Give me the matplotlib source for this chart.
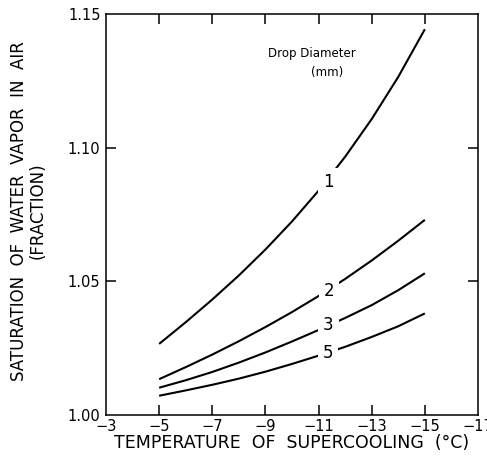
import matplotlib
matplotlib.use('Agg')
import matplotlib.pyplot as plt

# temperature of supercooling (deg C)
temps = [-5, -6, -7, -8, -9, -10, -11, -12, -13, -14, -15]

# saturation fraction for each drop diameter (mm)
sat_1mm = [1.0266, 1.0347, 1.0432, 1.0522, 1.0619, 1.0724, 1.0839, 1.0966, 1.1107, 1.1265, 1.1443]
sat_2mm = [1.0134, 1.0179, 1.0226, 1.0276, 1.0329, 1.0385, 1.0445, 1.0509, 1.0578, 1.0652, 1.0730]
sat_3mm = [1.0102, 1.0130, 1.0161, 1.0196, 1.0234, 1.0275, 1.0318, 1.0363, 1.0411, 1.0467, 1.0530]
sat_5mm = [1.0072, 1.0092, 1.0113, 1.0136, 1.0162, 1.0191, 1.0222, 1.0255, 1.0292, 1.0332, 1.0380]

curves = [('1', sat_1mm), ('2', sat_2mm), ('3', sat_3mm), ('5', sat_5mm)]
# where each curve's label sits (x, y)
label_pos = {'1': (-11.36, 1.0873), '2': (-11.4, 1.0465),
             '3': (-11.37, 1.0337), '5': (-11.37, 1.0233)}

x_ticks = [-3, -5, -7, -9, -11, -13, -15, -17]
y_ticks = [1.00, 1.05, 1.10, 1.15]

plt.rcParams['font.family'] = ['DejaVu Sans']

fig = plt.figure(figsize=(4.87, 4.61), dpi=100)
ax = fig.add_axes([106 / 487, 1 - 415 / 461, 372 / 487, 401 / 461])

for name, vals in curves:
    ax.plot(temps, vals, color='black', linewidth=1.5, solid_capstyle='butt')
    lx, ly = label_pos[name]
    ax.text(lx, ly, name, fontsize=12, ha='center', va='center', zorder=5,
            bbox=dict(facecolor='white', edgecolor='none', pad=3.5))

ax.text(-10.73, 1.1354, 'Drop Diameter', fontsize=8.5, ha='center', va='center')
ax.text(-11.33, 1.1283, '(mm)', fontsize=8.5, ha='center', va='center')

ax.set_xlim(-3, -17)
ax.set_ylim(1.00, 1.15)
ax.set_xticks(x_ticks)
ax.set_xticklabels([f'\u2212{abs(t)}' for t in x_ticks])
ax.set_yticks(y_ticks)
ax.set_yticklabels([f'{v:.2f}' for v in y_ticks])

ax.tick_params(direction='in', length=7, width=1.1, top=True, right=True,
               labelsize=10.5, pad=3)
ax.tick_params(axis='y', pad=4)
# no tick marks at the corners, only the labels
for ticks in (ax.xaxis.get_major_ticks(), ax.yaxis.get_major_ticks()):
    for t in (ticks[0], ticks[-1]):
        t.tick1line.set_visible(False)
        t.tick2line.set_visible(False)
for spine in ax.spines.values():
    spine.set_linewidth(1.1)

fig.text(28 / 487, 1 - 211 / 461, 'SATURATION  OF  WATER  VAPOR  IN  AIR\n(FRACTION)',
         rotation=90, ha='center', va='center', fontsize=12, linespacing=1.05)
fig.text(292 / 487, 1 - 443 / 461, 'TEMPERATURE  OF  SUPERCOOLING  (\u00b0C)',
         ha='center', va='center', fontsize=12.5)

fig.savefig('out.png', dpi=100)
plt.close(fig)
